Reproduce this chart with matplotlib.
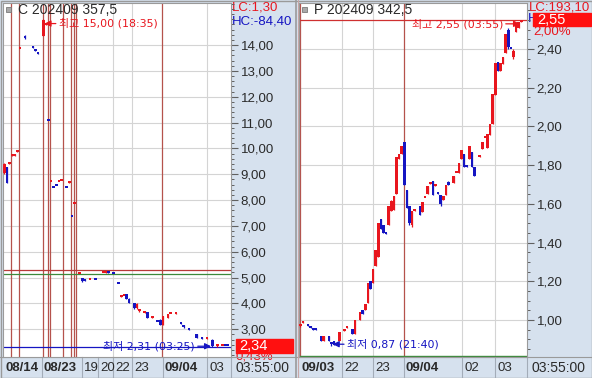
import matplotlib
matplotlib.use('Agg')
import matplotlib.pyplot as plt
import matplotlib.transforms as mtrans
from matplotlib import font_manager as fm
from matplotlib.patches import Rectangle
from matplotlib.ticker import FixedLocator, FuncFormatter

# ---------------- data: call option C 202409 357.5 ----------------
call_bar   = [0, 1, 2, 3, 4, 5, 6, 8, 11, 12, 13, 15, 16, 17, 18, 19, 20, 21, 22, 24, 25, 26, 27,
              29, 30, 31, 33, 35, 38, 39, 40, 42, 44, 45, 46, 47, 48, 50, 51, 52, 54, 55, 57, 59,
              60, 61, 63, 64, 66, 68, 69, 71, 74, 76, 78, 80, 82, 84, 85, 86]
call_open  = [9.06, 9.29, 9.40, 9.70, 9.72, 9.86, 13.84, 14.36, 13.97, 13.79, 13.69, 14.35, 14.78, 11.06,
              8.69, 8.48, 8.56, 8.69, 8.72, 8.48, 8.66, 7.36, 7.84, 5.12, 4.97, 4.93, 4.89, 4.91, 5.16,
              5.19, 5.21, 5.14, 4.75, 4.26, 4.27, 4.35, 4.18, 4.00, 3.82, 3.70, 3.63, 3.65, 3.44, 3.28,
              3.37, 3.18, 3.43, 3.57, 3.60, 3.23, 3.14, 3.00, 2.80, 2.70, 2.63, 2.60, 2.33, 2.33, 2.35, 2.35]
call_high  = [9.45, 9.29, 9.42, 9.76, 9.78, 9.89, 13.86, 14.38, 13.97, 13.79, 13.69, 15.00, 14.80, 11.06,
              8.71, 8.48, 8.56, 8.71, 8.74, 8.48, 8.68, 7.36, 7.86, 5.14, 4.98, 4.93, 4.91, 4.91, 5.18,
              5.21, 5.21, 5.14, 4.75, 4.28, 4.29, 4.36, 4.20, 4.00, 4.00, 3.80, 3.72, 3.66, 3.46, 3.28,
              3.38, 3.52, 3.60, 3.59, 3.62, 3.23, 3.15, 3.00, 2.81, 2.70, 2.65, 2.61, 2.44, 2.35, 2.35, 2.35]
call_low   = [9.00, 8.67, 9.40, 9.70, 9.72, 9.86, 13.84, 14.24, 13.88, 13.76, 13.66, 14.33, 14.78, 11.04,
              8.69, 8.46, 8.54, 8.69, 8.72, 8.46, 8.66, 7.34, 7.84, 5.12, 4.84, 4.85, 4.89, 4.89, 5.16,
              5.19, 5.19, 5.12, 4.73, 4.26, 4.27, 4.15, 4.00, 3.80, 3.80, 3.68, 3.62, 3.42, 3.44, 3.26,
              3.15, 3.16, 3.42, 3.57, 3.60, 3.21, 3.06, 2.98, 2.64, 2.62, 2.63, 2.31, 2.32, 2.33, 2.33, 2.33]
call_close = [9.41, 8.67, 9.42, 9.76, 9.78, 9.89, 13.86, 14.26, 13.89, 13.77, 13.67, 14.98, 14.80, 11.04,
              8.71, 8.46, 8.54, 8.71, 8.74, 8.46, 8.68, 7.34, 7.86, 5.14, 4.85, 4.86, 4.91, 4.89, 5.18,
              5.21, 5.19, 5.12, 4.73, 4.28, 4.29, 4.16, 4.01, 3.82, 3.99, 3.79, 3.70, 3.43, 3.46, 3.26,
              3.16, 3.50, 3.58, 3.59, 3.62, 3.21, 3.07, 2.98, 2.65, 2.63, 2.65, 2.36, 2.42, 2.35, 2.34, 2.34]
call_day_start = [3, 6, 15, 17, 18, 23, 26, 27, 28, 61]
call_grid_bars = [41.8, 49.1, 78]
call_tick_bars = [-0.5, 14.5, 30, 36, 41.8, 49.1, 61, 78]
call_tick_labels = ["08/14", "08/23", "19", "20", "22", "23", "09/04", "03"]
call_tick_bold = [True, True, False, False, False, False, True, False]
call_yticks = [3, 4, 5, 6, 7, 8, 9, 10, 11, 12, 13, 14]
call_high_val, call_low_val, call_last = 15.00, 2.31, 2.34
call_ref_red, call_ref_green = 5.28, 5.12

# ---------------- data: put option P 202409 342.5 ----------------
put_bar   = [0, 1, 3, 4, 5, 6, 8, 9, 11, 12, 13, 15, 17, 18, 20, 21, 23, 24, 25, 26, 27, 28, 29, 30,
             31, 32, 33, 34, 35, 36, 37, 38, 39, 40, 41, 42, 43, 44, 46, 47, 48, 49, 50, 51, 52, 53,
             54, 55, 56, 57, 59, 60, 61, 62, 63, 64, 65, 66, 67, 69, 70, 71, 72, 73, 74, 75, 76, 77,
             78, 79, 80, 81, 82, 83, 84, 85]
put_open  = [0.970, 0.985, 0.980, 0.970, 0.960, 0.952, 0.920, 0.890, 0.920, 0.885, 0.890, 0.890, 0.945,
             0.958, 0.955, 0.930, 1.000, 1.050, 1.050, 1.090, 1.200, 1.190, 1.280, 1.325, 1.520, 1.490,
             1.447, 1.490, 1.565, 1.570, 1.650, 1.830, 1.860, 1.920, 1.670, 1.590, 1.490, 1.563, 1.590,
             1.560, 1.628, 1.650, 1.705, 1.720, 1.693, 1.657, 1.645, 1.620, 1.645, 1.715, 1.710, 1.758,
             1.760, 1.830, 1.860, 1.797, 1.830, 1.870, 1.790, 1.843, 1.885, 1.938, 1.890, 1.955, 2.010,
             2.160, 2.335, 2.285, 2.320, 2.380, 2.500, 2.402, 2.360, 2.490, 2.510, 2.540]
put_high  = [0.975, 0.995, 0.980, 0.970, 0.960, 0.952, 0.920, 0.920, 0.920, 0.885, 0.890, 0.940, 0.955,
             0.962, 0.955, 1.000, 1.040, 1.050, 1.085, 1.190, 1.200, 1.265, 1.360, 1.500, 1.520, 1.490,
             1.447, 1.590, 1.620, 1.640, 1.840, 1.860, 1.900, 1.920, 1.670, 1.590, 1.565, 1.567, 1.590,
             1.610, 1.632, 1.690, 1.712, 1.720, 1.697, 1.657, 1.645, 1.640, 1.700, 1.720, 1.745, 1.762,
             1.810, 1.880, 1.860, 1.797, 1.900, 1.870, 1.790, 1.847, 1.920, 1.942, 1.960, 2.010, 2.170,
             2.330, 2.335, 2.330, 2.360, 2.480, 2.510, 2.402, 2.400, 2.530, 2.540, 2.550]
put_low   = [0.965, 0.985, 0.970, 0.960, 0.950, 0.948, 0.890, 0.890, 0.890, 0.865, 0.870, 0.890, 0.945,
             0.958, 0.930, 0.930, 1.000, 1.030, 1.050, 1.090, 1.160, 1.190, 1.280, 1.325, 1.470, 1.450,
             1.443, 1.490, 1.565, 1.570, 1.650, 1.830, 1.860, 1.700, 1.580, 1.490, 1.480, 1.563, 1.540,
             1.560, 1.628, 1.650, 1.705, 1.645, 1.693, 1.653, 1.590, 1.620, 1.645, 1.695, 1.710, 1.758,
             1.760, 1.830, 1.790, 1.793, 1.830, 1.790, 1.745, 1.843, 1.885, 1.938, 1.890, 1.955, 2.010,
             2.160, 2.285, 2.285, 2.320, 2.380, 2.400, 2.398, 2.350, 2.490, 2.510, 2.540]
put_close = [0.972, 0.990, 0.970, 0.960, 0.950, 0.948, 0.890, 0.920, 0.890, 0.875, 0.870, 0.940, 0.955,
             0.962, 0.930, 1.000, 1.040, 1.030, 1.085, 1.190, 1.160, 1.265, 1.360, 1.500, 1.470, 1.450,
             1.443, 1.590, 1.615, 1.640, 1.840, 1.860, 1.900, 1.700, 1.580, 1.500, 1.565, 1.567, 1.540,
             1.610, 1.632, 1.690, 1.712, 1.645, 1.697, 1.653, 1.600, 1.640, 1.700, 1.695, 1.745, 1.762,
             1.810, 1.880, 1.790, 1.793, 1.900, 1.790, 1.745, 1.847, 1.920, 1.942, 1.960, 2.010, 2.170,
             2.330, 2.285, 2.330, 2.360, 2.480, 2.410, 2.398, 2.390, 2.530, 2.540, 2.550]
put_day_start = [0, 40]
put_grid_bars = [16, 28, 62.2, 74.9]
put_tick_bars = [-0.5, 16, 28, 39.7, 62.2, 74.9]
put_tick_labels = ["09/03", "22", "23", "09/04", "02", "03"]
put_tick_bold = [True, False, False, True, False, False]
put_yticks = [1.0, 1.2, 1.4, 1.6, 1.8, 2.0, 2.2, 2.4]
put_high_val, put_low_val, put_last = 2.55, 0.87, 2.55
put_ref_green = 0.815

# ---------------- style ----------------
avail = {f.name for f in fm.fontManager.ttflist}
NARROW = 'Liberation Sans Narrow' if 'Liberation Sans Narrow' in avail else 'Liberation Sans'
WIDE = 'Liberation Sans'
KR = ['DejaVu Sans', 'Noto Sans CJK KR']
RED = '#e8161e'
BLUE = '#1515c2'
DAY = '#b5524c'
GRID = '#d4d4d4'
STRIP = '#d6e1ee'
TXT = '#2a2a2a'
BORDER = '#9a9a9a'

W, H = 592, 378
fig = plt.figure(figsize=(W / 100, H / 100), dpi=100, facecolor=STRIP)


def rect(x0, y0, x1, y1):
    return [x0 / W, 1 - y1 / H, (x1 - x0) / W, (y1 - y0) / H]


bg = fig.add_axes([0, 0, 1, 1], zorder=0)
bg.set_xlim(0, W)
bg.set_ylim(H, 0)
bg.axis('off')
ov = fig.add_axes([0, 0, 1, 1], zorder=3)
ov.set_xlim(0, W)
ov.set_ylim(H, 0)
ov.axis('off')

PLOT_TOP, PLOT_BOT = 3, 357
fmt = FuncFormatter(lambda v, p: f"{v:.2f}".replace('.', ','))


def draw_panel(x0, bars, o, h, l, c, ylim, yticks, minor_step, day_start, grid_bars,
               tick_bars, tick_labels, tick_bold):
    ax = fig.add_axes(rect(x0, PLOT_TOP, x0 + 228, PLOT_BOT), zorder=1, facecolor='white')
    ax.set_xlim(-0.5, 87.2)
    ax.set_ylim(*ylim)
    ppx = (ylim[1] - ylim[0]) / (PLOT_BOT - PLOT_TOP)
    for y in yticks:
        ax.axhline(y, color=GRID, lw=0.8, zorder=0)
    for b in grid_bars:
        ax.axvline(b, color=GRID, lw=0.8, zorder=0)
    for b in day_start:
        ax.axvline(b - 0.3, color=DAY, lw=0.9, zorder=1)
    for b, oo, hh, ll, cc in zip(bars, o, h, l, c):
        col = RED if cc >= oo else BLUE
        ax.vlines(b, ll, hh, color=col, lw=0.9, zorder=3)
        ax.bar(b, max(abs(cc - oo), 2.0 * ppx), bottom=min(oo, cc), width=0.98,
               color=col, lw=0, zorder=4)
    ax.yaxis.tick_right()
    ax.yaxis.set_major_locator(FixedLocator(yticks))
    ax.yaxis.set_major_formatter(fmt)
    mn = []
    k = 0
    start = ylim[0] - (ylim[0] % minor_step)
    while start + k * minor_step <= ylim[1]:
        mn.append(round(start + k * minor_step, 4))
        k += 1
    ax.yaxis.set_minor_locator(FixedLocator(mn))
    ax.tick_params(axis='y', which='major', length=5, width=0.8, color='#606060',
                   labelsize=9.5, labelcolor=TXT, pad=2)
    ax.tick_params(axis='y', which='minor', length=2.5, width=0.7, color='#606060')
    for t in ax.get_yticklabels():
        t.set_fontfamily(NARROW)
    ax.set_xticks([])
    for s in ax.spines.values():
        s.set_color(BORDER)
        s.set_linewidth(0.8)
    trans = mtrans.blended_transform_factory(ax.transData, ax.transAxes)
    frac = (H - PLOT_BOT) / (PLOT_BOT - PLOT_TOP)
    for pos, lab, bold in zip(tick_bars, tick_labels, tick_bold):
        if pos > 0:
            ax.plot([pos, pos], [0, -frac], transform=trans, color='#a3acb8', lw=0.8,
                    clip_on=False)
        ax.annotate(lab, xy=(pos, 0), xycoords=trans, xytext=(2, -11),
                    textcoords='offset pixels', ha='left', va='center', fontsize=9.5,
                    fontfamily=WIDE if bold else NARROW,
                    fontweight='bold' if bold else 'normal', color=TXT,
                    annotation_clip=False)
    return ax


axL = draw_panel(3, call_bar, call_open, call_high, call_low, call_close,
                 (1.923, 15.626), call_yticks, 0.2, call_day_start, call_grid_bars,
                 call_tick_bars, call_tick_labels, call_tick_bold)
axR = draw_panel(299, put_bar, put_open, put_high, put_low, put_close,
                 (0.809, 2.6376), put_yticks, 0.05, put_day_start, put_grid_bars,
                 put_tick_bars, put_tick_labels, put_tick_bold)

# reference lines
axL.axhline(call_ref_red, color='#b83a3a', lw=0.9, zorder=2)
axL.axhline(call_ref_green, color='#3c8a3c', lw=0.9, zorder=2)
axL.axhline(call_low_val, color=BLUE, lw=0.9, zorder=2)
axR.axhline(put_high_val, color='#cf3030', lw=0.9, zorder=2)
axR.axhline(put_ref_green, color='#3c8a3c', lw=1.0, zorder=2)

arrow_r = dict(arrowstyle='-|>', color=RED, lw=0.9, shrinkA=0, shrinkB=0, mutation_scale=9)
arrow_b = dict(arrowstyle='-|>', color=BLUE, lw=0.9, shrinkA=0, shrinkB=0, mutation_scale=9)
kr = dict(fontsize=7.9, fontfamily=KR, va='center', textcoords='offset pixels', zorder=6)

hi_i = call_high.index(max(call_high))
axL.annotate(f"최고 {call_high_val:.2f} (18:35)".replace('.', ','),
             xy=(call_bar[hi_i] + 0.5, call_high_val - 0.17), xytext=(14, 0), ha='left',
             color=RED, arrowprops=arrow_r, **kr)
lo_i = call_low.index(min(call_low))
axL.annotate(f"최저 {call_low_val:.2f} (03:25)".replace('.', ','),
             xy=(call_bar[lo_i] - 0.5, call_low_val + 0.03), xytext=(-16, 0), ha='right',
             color=BLUE, arrowprops=arrow_b, **kr)
hi_j = put_high.index(max(put_high))
axR.annotate(f"최고 {put_high_val:.2f} (03:55)".replace('.', ','),
             xy=(put_bar[hi_j] - 0.5, put_high_val - 0.02), xytext=(-17, 0), ha='right',
             color=RED, arrowprops=arrow_r, **kr)
lo_j = put_low.index(min(put_low))
axR.annotate(f"최저 {put_low_val:.2f} (21:40)".replace('.', ','),
             xy=(put_bar[lo_j] + 0.5, put_low_val + 0.005), xytext=(14, 0), ha='left',
             color=BLUE, arrowprops=arrow_b, **kr)

# ---------------- chrome: axis strips, labels, price boxes ----------------
for xs in (0, 296):
    x_axis = 231 + xs
    if xs == 0:
        bg.text(232, 8, "LC:1,30", color=RED, fontsize=9.5, fontfamily=NARROW, va='center')
        bg.text(232, 21, "HC:-84,40", color=BLUE, fontsize=9.5, fontfamily=NARROW, va='center')
        bg.add_patch(Rectangle((236, 339), 57, 14, color='#ff1010', zorder=3))
        bg.text(239, 345.5, f"{call_last:.2f}".replace('.', ','), color='white', fontsize=10.5,
                fontfamily=NARROW, va='center', zorder=4)
        t = bg.text(236, 356.5, "0,43%", color=RED, fontsize=9.5, fontfamily=NARROW,
                    va='center', zorder=2)
        t.set_clip_path(Rectangle((0, 0), 296, PLOT_BOT, transform=bg.transData))
    else:
        bg.text(529, 7, "LC:193,10", color=RED, fontsize=9.5, fontfamily=NARROW, va='center')
        th = bg.text(528, 19.5, "H", color=BLUE, fontsize=9.5, fontfamily=NARROW,
                     va='center', zorder=2)
        th.set_clip_path(Rectangle((520, 0), 13, 40, transform=bg.transData))
        bg.add_patch(Rectangle((533, 13), 58, 13, color='#ff1010', zorder=3))
        bg.text(537.5, 19.5, f"{put_last:.2f}".replace('.', ','), color='white', fontsize=10.5,
                fontfamily=NARROW, va='center', zorder=4)
        bg.text(533, 31, "2,00%", color=RED, fontsize=9.5, fontfamily=NARROW, va='center',
                zorder=2)
    bg.text(263 + xs, 368, "03:55:00", color=TXT, fontsize=10, fontfamily=NARROW,
            ha='center', va='center')
    bg.plot([x_axis, x_axis], [PLOT_BOT, H], color='#a3acb8', lw=0.8)
    bg.plot([xs, xs + 296], [PLOT_BOT, PLOT_BOT], color=BORDER, lw=0.8)

bg.plot([296, 296], [0, H], color=BORDER, lw=1.2)
bg.plot([298, 298], [0, H], color='#c9a7a7', lw=0.8)
bg.add_patch(Rectangle((0.5, 0.5), W - 1, H - 1, fill=False, ec=BORDER, lw=1))

# titles with small square icons
for x_icon, title in ((6, "C 202409 357,5"), (302, "P 202409 342,5")):
    ov.add_patch(Rectangle((x_icon, 7), 4.5, 4.5, fc='#a9a9a9', ec='#7a7a7a', lw=0.6))
    ov.text(x_icon + 12, 10, title, color=TXT, fontsize=10, fontfamily=NARROW, va='center')

fig.savefig('out.png', dpi=100, facecolor=STRIP)
